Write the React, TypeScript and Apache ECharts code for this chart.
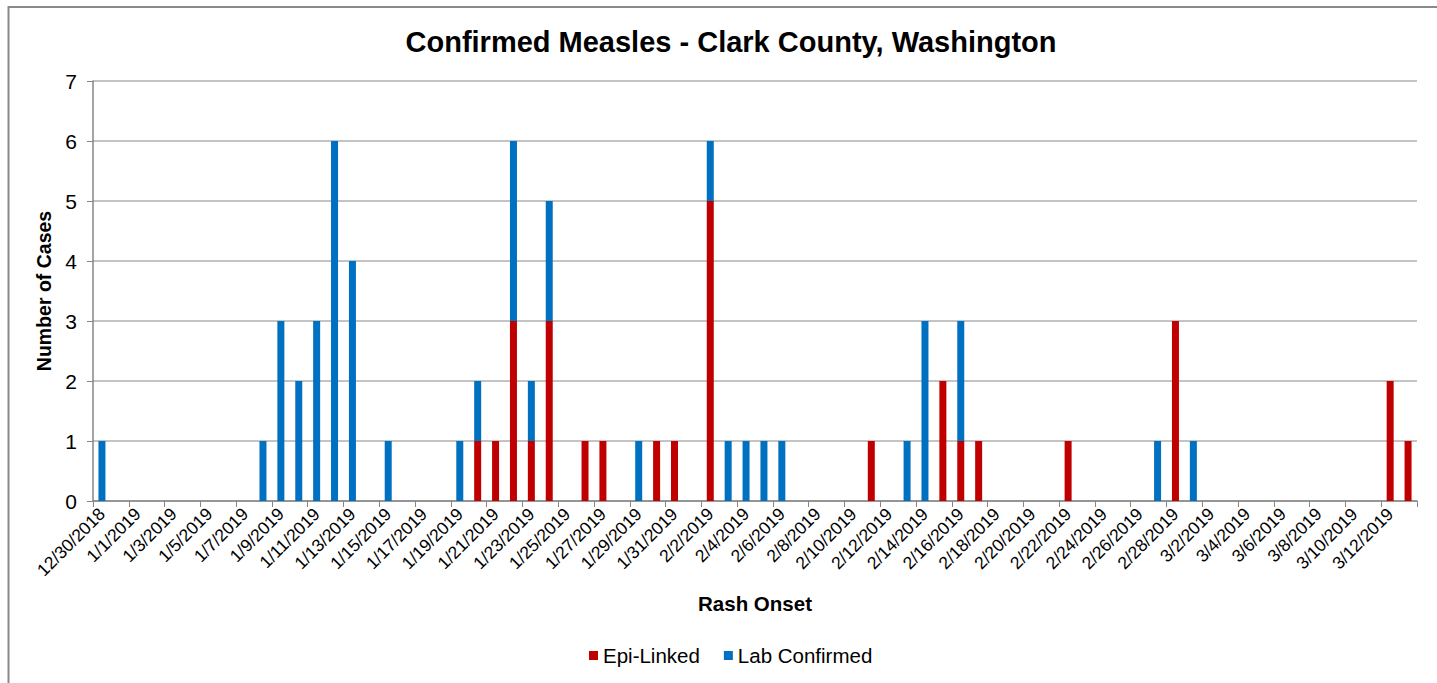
import React, { useEffect, useRef } from "react";
import * as echarts from "echarts";

const categories: string[] = [
  "12/30/2018", "12/31/2018",
  "1/1/2019", "1/2/2019", "1/3/2019", "1/4/2019", "1/5/2019", "1/6/2019", "1/7/2019", "1/8/2019",
  "1/9/2019", "1/10/2019", "1/11/2019", "1/12/2019", "1/13/2019", "1/14/2019", "1/15/2019", "1/16/2019",
  "1/17/2019", "1/18/2019", "1/19/2019", "1/20/2019", "1/21/2019", "1/22/2019", "1/23/2019", "1/24/2019",
  "1/25/2019", "1/26/2019", "1/27/2019", "1/28/2019", "1/29/2019", "1/30/2019", "1/31/2019",
  "2/1/2019", "2/2/2019", "2/3/2019", "2/4/2019", "2/5/2019", "2/6/2019", "2/7/2019", "2/8/2019",
  "2/9/2019", "2/10/2019", "2/11/2019", "2/12/2019", "2/13/2019", "2/14/2019", "2/15/2019", "2/16/2019",
  "2/17/2019", "2/18/2019", "2/19/2019", "2/20/2019", "2/21/2019", "2/22/2019", "2/23/2019", "2/24/2019",
  "2/25/2019", "2/26/2019", "2/27/2019", "2/28/2019",
  "3/1/2019", "3/2/2019", "3/3/2019", "3/4/2019", "3/5/2019", "3/6/2019", "3/7/2019", "3/8/2019",
  "3/9/2019", "3/10/2019", "3/11/2019", "3/12/2019", "3/13/2019",
];

// Epi-Linked cases per day (12/30/2018 .. 3/13/2019)
const epiLinked: number[] = [
  0, 0,
  0, 0, 0, 0, 0, 0, 0, 0, 0, 0, 0, 0, 0, 0, 0, 0, 0, 0, 0, 1, 1, 3, 1, 3, 0, 1, 1, 0, 0, 1, 1,
  0, 5, 0, 0, 0, 0, 0, 0, 0, 0, 1, 0, 0, 0, 2, 1, 1, 0, 0, 0, 0, 1, 0, 0, 0, 0, 0, 3,
  0, 0, 0, 0, 0, 0, 0, 0, 0, 0, 0, 2, 1,
];

// Lab Confirmed cases per day
const labConfirmed: number[] = [
  1, 0,
  0, 0, 0, 0, 0, 0, 0, 1, 3, 2, 3, 6, 4, 0, 1, 0, 0, 0, 1, 1, 0, 3, 1, 2, 0, 0, 0, 0, 1, 0, 0,
  0, 1, 1, 1, 1, 1, 0, 0, 0, 0, 0, 0, 1, 3, 0, 2, 0, 0, 0, 0, 0, 0, 0, 0, 0, 0, 1, 0,
  1, 0, 0, 0, 0, 0, 0, 0, 0, 0, 0, 0, 0,
];

const seriesNames = ["Epi-Linked", "Lab Confirmed"];
const seriesColors = ["#C00000", "#0070C0"];

const FONT = "'Liberation Sans', Arial, sans-serif";

export default function App() {
  const ref = useRef<HTMLDivElement>(null);

  useEffect(() => {
    document.body.style.margin = "0";
    if (!ref.current) return;
    const chart = echarts.init(ref.current, undefined, { renderer: "svg" });
    chart.setOption({
      animation: false,
      backgroundColor: "#ffffff",
      textStyle: { fontFamily: FONT, color: "#000" },
      graphic: [
        {
          type: "rect",
          shape: { x: 8.5, y: 7, width: 1500, height: 800 },
          style: { fill: "none", stroke: "#898989", lineWidth: 2 },
          silent: true,
          z: -10,
        },
      ],
      title: {
        text: "Confirmed Measles - Clark County, Washington",
        left: 726,
        textAlign: "center",
        top: 22,
        textStyle: { fontFamily: FONT, fontSize: 29, fontWeight: "bold", color: "#000" },
      },
      legend: {
        data: seriesNames,
        bottom: 12,
        left: 584,
        itemWidth: 9,
        itemHeight: 9,
        itemGap: 24,
        icon: "rect",
        textStyle: { fontFamily: FONT, fontSize: 20.5, color: "#000" },
      },
      grid: { left: 93, right: 20, top: 81, bottom: 182 },
      xAxis: {
        type: "category",
        data: categories,
        boundaryGap: true,
        name: "Rash Onset",
        nameLocation: "middle",
        nameGap: 92,
        nameTextStyle: { fontFamily: FONT, fontSize: 20.5, fontWeight: "bold", color: "#000" },
        axisLine: { lineStyle: { color: "#868686", width: 1.5 } },
        axisTick: { show: true, interval: 1, alignWithLabel: false, length: 6, lineStyle: { color: "#868686" } },
        axisLabel: {
          interval: 1,
          rotate: 45,
          fontFamily: FONT,
          fontSize: 17.5,
          color: "#000",
          margin: 10,
        },
      },
      yAxis: {
        type: "value",
        min: 0,
        max: 7,
        interval: 1,
        name: "Number of Cases",
        nameLocation: "middle",
        nameRotate: 90,
        nameGap: 38,
        nameTextStyle: { fontFamily: FONT, fontSize: 19.5, fontWeight: "bold", color: "#000" },
        axisLine: { show: true, lineStyle: { color: "#868686", width: 1.5 } },
        axisTick: { show: true, length: 6, lineStyle: { color: "#868686" } },
        axisLabel: { fontFamily: FONT, fontSize: 21, color: "#000", margin: 16 },
        splitLine: { show: true, lineStyle: { color: "#b0b0b0", width: 1.5 } },
      },
      series: [
        {
          name: seriesNames[0],
          type: "bar",
          stack: "cases",
          data: epiLinked,
          barWidth: 7,
          itemStyle: { color: seriesColors[0] },
        },
        {
          name: seriesNames[1],
          type: "bar",
          stack: "cases",
          data: labConfirmed,
          barWidth: 7,
          itemStyle: { color: seriesColors[1] },
        },
      ],
    });
    return () => chart.dispose();
  }, []);

  return <div ref={ref} style={{ width: 1437, height: 683 }} />;
}
